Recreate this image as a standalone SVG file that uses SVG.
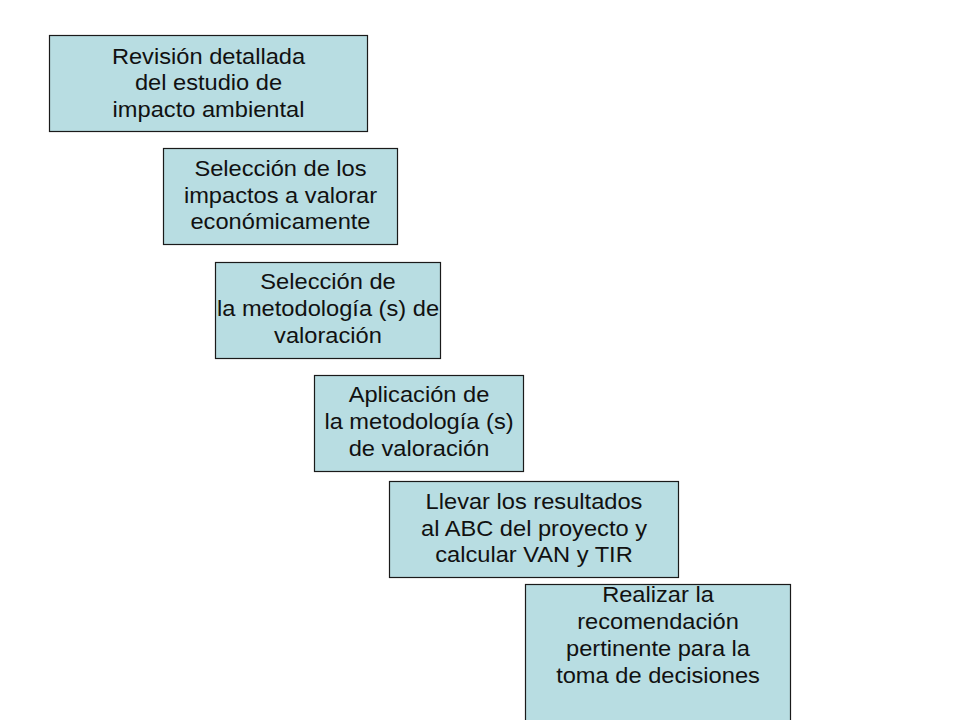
<svg xmlns="http://www.w3.org/2000/svg" width="960" height="720" viewBox="0 0 960 720">
<style>
.box{fill:#b8dde2;stroke:#1a1a1a;stroke-width:1.2}
.t{font-family:"Liberation Sans",Arial,sans-serif;font-size:21.5px;fill:#111;text-anchor:middle}
</style>
<rect width="960" height="720" fill="#ffffff"/>
<g id="connectors"/>
<g id="n1">
<rect class="box" x="49.5" y="35.5" width="318" height="96"/>
<g transform="translate(208.5,0) scale(1.1,1)">
<text class="t" x="0" y="64">Revisión detallada</text>
<text class="t" x="0" y="90.5">del estudio de</text>
<text class="t" x="0" y="117">impacto ambiental</text>
</g>
</g>
<g id="n2">
<rect class="box" x="163.5" y="148.5" width="234" height="96"/>
<g transform="translate(280.5,0) scale(1.1,1)">
<text class="t" x="0" y="176">Selección de los</text>
<text class="t" x="0" y="203">impactos a valorar</text>
<text class="t" x="0" y="229.5">económicamente</text>
</g>
</g>
<g id="n3">
<rect class="box" x="215.5" y="262.5" width="225" height="96"/>
<g transform="translate(328,0) scale(1.1,1)">
<text class="t" x="0" y="289.5">Selección de</text>
<text class="t" x="0" y="316.5">la metodología (s) de</text>
<text class="t" x="0" y="343.5">valoración</text>
</g>
</g>
<g id="n4">
<rect class="box" x="314.5" y="375.5" width="209" height="96"/>
<g transform="translate(419,0) scale(1.1,1)">
<text class="t" x="0" y="402">Aplicación de</text>
<text class="t" x="0" y="429">la metodología (s)</text>
<text class="t" x="0" y="456">de valoración</text>
</g>
</g>
<g id="n5">
<rect class="box" x="389.5" y="481.5" width="289" height="96"/>
<g transform="translate(534,0) scale(1.1,1)">
<text class="t" x="0" y="509">Llevar los resultados</text>
<text class="t" x="0" y="536">al ABC del proyecto y</text>
<text class="t" x="0" y="562.5">calcular VAN y TIR</text>
</g>
</g>
<g id="n6">
<rect class="box" x="525.5" y="584.5" width="265" height="150"/>
<g transform="translate(658,0) scale(1.1,1)">
<text class="t" x="0" y="602">Realizar la</text>
<text class="t" x="0" y="629">recomendación</text>
<text class="t" x="0" y="656">pertinente para la</text>
<text class="t" x="0" y="683">toma de decisiones</text>
</g>
</g>
</svg>
